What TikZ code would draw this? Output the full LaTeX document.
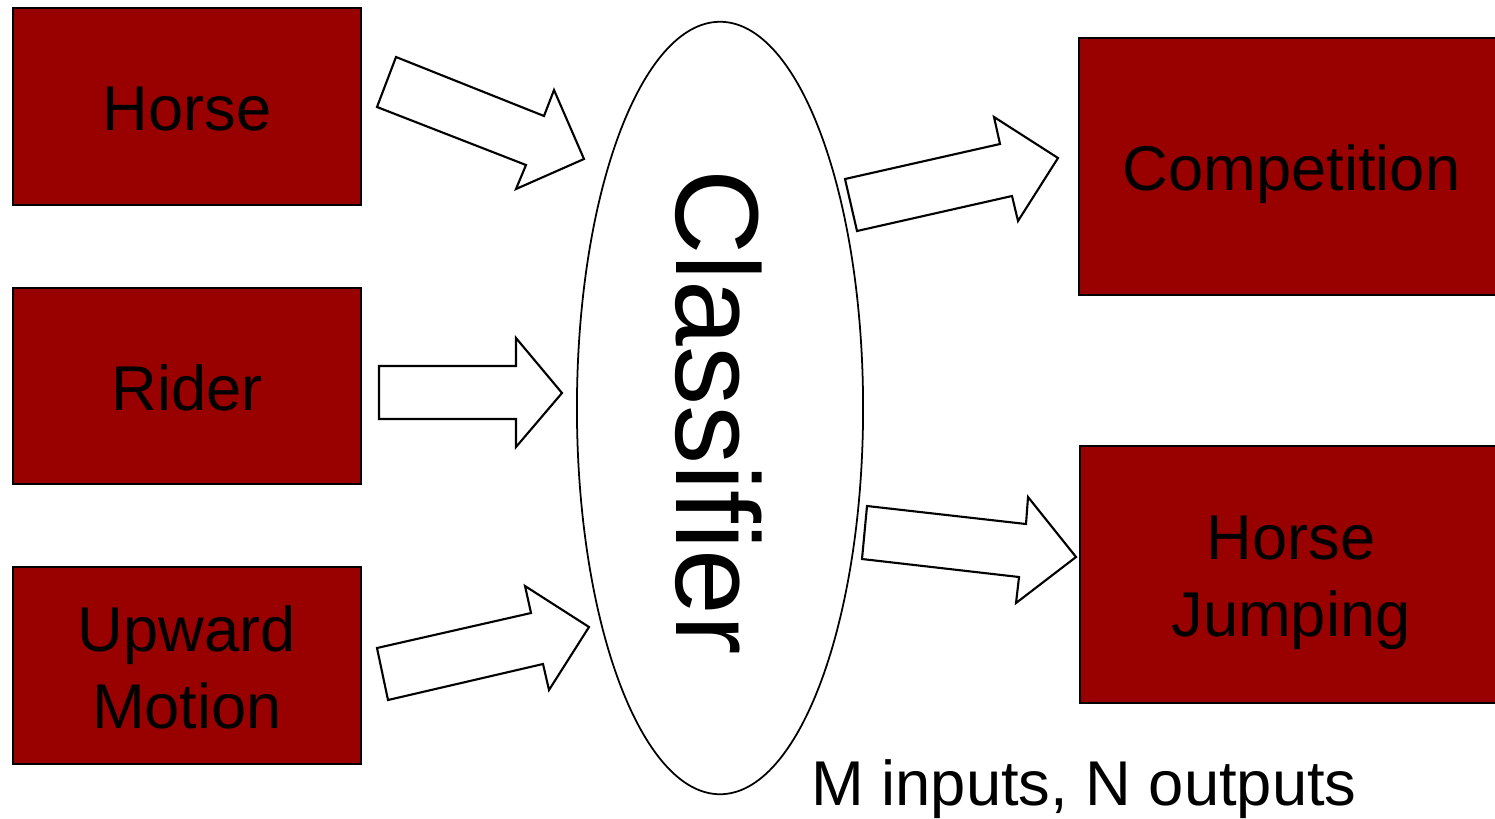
\documentclass[tikz,border=0pt]{standalone}
\usepackage{fontspec}
\setmainfont{Liberation Sans}
\usetikzlibrary{shapes.geometric}
\definecolor{boxred}{HTML}{990000}
\begin{document}
\begin{tikzpicture}[x=0.01cm,y=-0.01cm,
  redbox/.style={draw=black,line width=0.6pt,fill=boxred,inner sep=0pt},
  boxtext/.style={font=\fontsize{18}{22}\selectfont,align=center,inner sep=0pt},
  blockarrow/.style={draw=black,line width=0.6pt,fill=white,line join=miter},
  label/.style={font=\fontsize{18}{22}\selectfont,inner sep=0pt}]
\useasboundingbox (0,0) rectangle (1495,818);
\clip (0,0) rectangle (1495,818);
% input boxes
\node[redbox,minimum width=3.48cm,minimum height=1.97cm] (horse) at (187,106.5) {};
\node[boxtext] (horsetext) at ([yshift=-0.03cm]horse.center) {Horse};
\node[redbox,minimum width=3.48cm,minimum height=1.96cm] (rider) at (187,386) {};
\node[boxtext] (ridertext) at ([yshift=-0.02cm]rider.center) {Rider};
\node[redbox,minimum width=3.48cm,minimum height=1.97cm] (upward) at (187,665.5) {};
\node[boxtext] (upwardtext) at ([yshift=-0.02cm]upward.center) {Upward\\Motion};
% output boxes
\node[redbox,minimum width=4.21cm,minimum height=2.57cm] (comp) at (1289.5,166.5) {};
\node[boxtext] (comptext) at ([xshift=0.02cm,yshift=-0.08cm]comp.center) {Competition};
\node[redbox,minimum width=4.20cm,minimum height=2.57cm] (jump) at (1290,574.5) {};
\node[boxtext] (jumptext) at ([xshift=0.01cm,yshift=-0.08cm]jump.center) {Horse\\Jumping};
% classifier
\node[draw=black,line width=0.5pt,ellipse,minimum width=2.86cm,minimum height=7.72cm,inner sep=0pt] (cls) at (720,408) {};
\node[font=\fontsize{33.6}{36}\selectfont,rotate=-90,inner sep=0pt] (clstext) at (719,412) {Classifier};
% block arrows
\draw[blockarrow] (396,57) -- (544,116) -- (554,90) -- (584,159) -- (516,189) -- (526,165) -- (377,107) -- cycle;
\draw[blockarrow] (379,366) -- (516,366) -- (516,338) -- (562,393) -- (516,447) -- (516,419) -- (379,419) -- cycle;
\draw[blockarrow] (377,648) -- (531,613) -- (525,586) -- (589,627) -- (549,690) -- (543,664) -- (388,700) -- cycle;
\draw[blockarrow] (845,179) -- (1000,144) -- (994,117) -- (1058,158) -- (1018,221) -- (1012,196) -- (857,231) -- cycle;
\draw[blockarrow] (867,506) -- (1026,524) -- (1028,497) -- (1076,557) -- (1016,603) -- (1019,577) -- (862,559) -- cycle;
% caption
\node[label] (cap) at (1084,789) {M inputs, N outputs};
\end{tikzpicture}
\end{document}
